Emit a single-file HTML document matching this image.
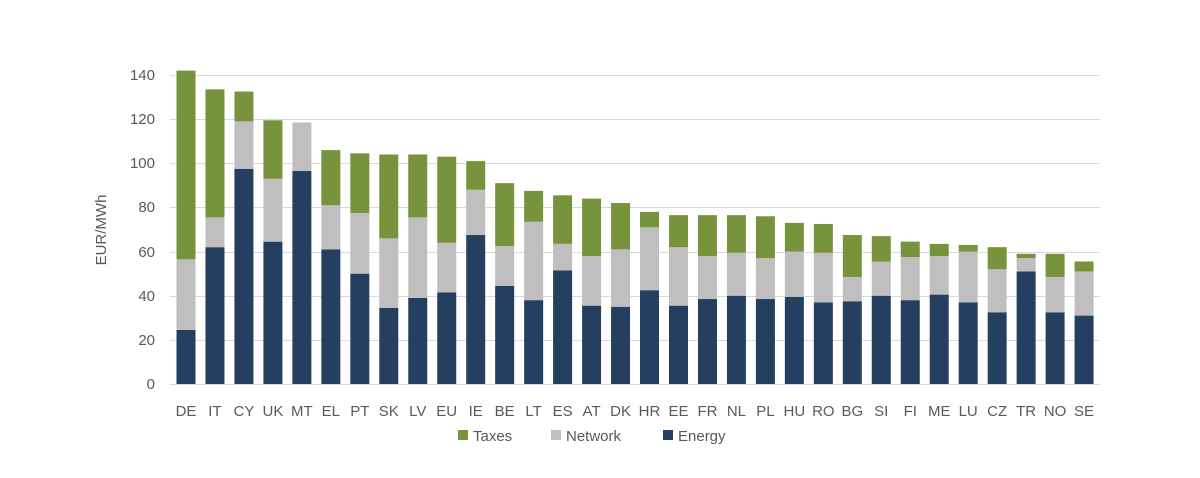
<!DOCTYPE html>
<html><head><meta charset="utf-8"><style>body{margin:0;background:#fff}svg{display:block}text{font-family:"Liberation Sans",sans-serif;fill:#595959}</style></head><body>
<svg width="1200" height="478" xmlns="http://www.w3.org/2000/svg" id="s">
<g stroke="#d9d9d9" stroke-width="1">
<line x1="170" x2="1100" y1="340.5" y2="340.5"/><line x1="170" x2="1100" y1="296.5" y2="296.5"/><line x1="170" x2="1100" y1="252.5" y2="252.5"/><line x1="170" x2="1100" y1="207.5" y2="207.5"/><line x1="170" x2="1100" y1="163.5" y2="163.5"/><line x1="170" x2="1100" y1="119.5" y2="119.5"/><line x1="170" x2="1100" y1="75.5" y2="75.5"/>
</g>
<g font-size="15" text-anchor="end">
<text x="155" y="389">0</text><text x="155" y="345">20</text><text x="155" y="301">40</text><text x="155" y="257">60</text><text x="155" y="212">80</text><text x="155" y="168">100</text><text x="155" y="124">120</text><text x="155" y="80">140</text>
</g>
<text x="106" y="230" font-size="15" text-anchor="middle" transform="rotate(-90 106 230)">EUR/MWh</text>
<g id="bars"></g>
<line x1="170" x2="1100" y1="384.5" y2="384.5" stroke="#d9d9d9"/>
<rect x="458" y="430" width="10" height="10" fill="#77933c"/><text x="473" y="441" font-size="15">Taxes</text>
<rect x="551" y="430" width="10" height="10" fill="#bfbfbf"/><text x="566" y="441" font-size="15">Network</text>
<rect x="663" y="430" width="10" height="10" fill="#243f60"/><text x="678" y="441" font-size="15">Energy</text>
</svg>
<script>
var d=[["DE",24.5,56.5,142],["IT",62,75.5,133.5],["CY",97.5,119,132.5],["UK",64.5,93,119.5],["MT",96.5,118.5,118.5],["EL",61,81,106],["PT",50,77.5,104.5],["SK",34.5,66,104],["LV",39,75.5,104],["EU",41.5,64,103],["IE",67.5,88,101],["BE",44.5,62.5,91],["LT",38,73.5,87.5],["ES",51.5,63.5,85.5],["AT",35.5,58,84],["DK",35,61,82],["HR",42.5,71,78],["EE",35.5,62,76.5],["FR",38.5,58,76.5],["NL",40,59.5,76.5],["PL",38.5,57,76],["HU",39.5,60,73],["RO",37,59.5,72.5],["BG",37.5,48.5,67.5],["SI",40,55.5,67],["FI",38,57.5,64.5],["ME",40.5,58,63.5],["LU",37,60,63],["CZ",32.5,52,62],["TR",51,57,59],["NO",32.5,48.5,59],["SE",31,51,55.5]];
var h="",k=2.207,b=384;
d.forEach(function(r,i){var cx=186+i*28.97,x=cx-9.5;
function R(a,c,col){if(c>a)h+='<rect x="'+x+'" y="'+(b-c*k)+'" width="19" height="'+((c-a)*k)+'" fill="'+col+'"/>';}
R(0,r[1],"#243f60");R(r[1],r[2],"#bfbfbf");R(r[2],r[3],"#77933c");
h+='<text x="'+cx+'" y="416" font-size="15" text-anchor="middle">'+r[0]+'</text>';});
document.getElementById("bars").innerHTML=h;
</script>
</body></html>
